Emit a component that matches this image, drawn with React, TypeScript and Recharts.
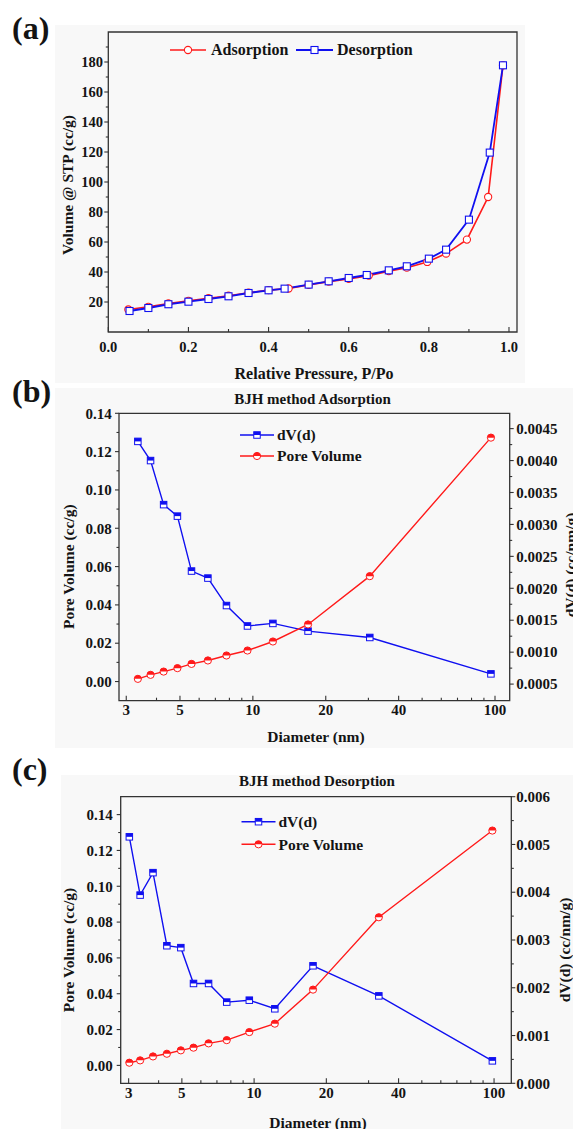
import React from 'react';
import { LineChart, Line, XAxis, YAxis, ReferenceArea, Legend } from 'recharts';

const FONT = '"Liberation Serif", "Times New Roman", serif';
const RED = '#ff1a1a';
const BLUE = '#1010f0';
const FRAME = '#333333';
const INK = '#141414';

// (a) N2 adsorption / desorption isotherm
const adsPressure = [0.05, 0.1, 0.15, 0.2, 0.25, 0.3, 0.35, 0.4, 0.45, 0.5, 0.55, 0.6, 0.65, 0.7, 0.745, 0.796, 0.843, 0.895, 0.948, 0.985];
const adsVolume = [15.0, 16.8, 19.0, 20.8, 22.5, 24.2, 26.2, 27.9, 29.0, 31.4, 33.6, 35.4, 37.6, 40.6, 42.9, 46.7, 52.3, 61.6, 90.0, 177.8];
const desPressure = [0.053, 0.1, 0.15, 0.2, 0.25, 0.3, 0.35, 0.4, 0.44, 0.5, 0.55, 0.6, 0.645, 0.7, 0.745, 0.8, 0.843, 0.9, 0.952, 0.985];
const desVolume = [14.0, 16.0, 18.5, 20.2, 22.0, 23.8, 26.0, 27.8, 28.9, 31.6, 33.8, 36.0, 38.0, 41.1, 43.8, 48.9, 54.9, 74.9, 119.6, 177.8];
const pressureTicks = [0, 0.2, 0.4, 0.6, 0.8, 1.0];
const pressureMinor = [0.1, 0.3, 0.5, 0.7, 0.9];
const volumeTicks = [20, 40, 60, 80, 100, 120, 140, 160, 180];
const volumeMinor = [10, 30, 50, 70, 90, 110, 130, 150, 170, 190];

// (b) BJH adsorption
const adsDiameter = [3.35, 3.78, 4.28, 4.88, 5.58, 6.52, 7.78, 9.5, 12.1, 16.9, 30.4, 96.2];
const adsDv = [0.0043, 0.004, 0.00331, 0.00313, 0.00227, 0.00216, 0.00173, 0.00141, 0.00145, 0.00133, 0.00123, 0.00066];
const adsPoreVolume = [0.0014, 0.0035, 0.0052, 0.007, 0.0092, 0.011, 0.0136, 0.0162, 0.0209, 0.0298, 0.055, 0.1273];

// (c) BJH desorption
const desDiameter = [3.02, 3.35, 3.79, 4.33, 4.95, 5.59, 6.46, 7.69, 9.55, 12.2, 17.6, 33.1, 98.4];
const desDv = [0.00516, 0.00394, 0.00441, 0.00288, 0.00284, 0.00209, 0.00209, 0.0017, 0.00174, 0.00156, 0.00246, 0.00183, 0.00047];
const desPoreVolume = [0.0015, 0.0028, 0.005, 0.0065, 0.0084, 0.0099, 0.0123, 0.0141, 0.0186, 0.0233, 0.0423, 0.0827, 0.1311];

const diameterTicks = [3, 5, 10, 20, 40, 100];
const diameterMinor = [4, 6, 7, 8, 9, 30, 50, 60, 70, 80, 90];
const poreTicks = [0, 0.02, 0.04, 0.06, 0.08, 0.1, 0.12, 0.14];
const poreMinor = [0.01, 0.03, 0.05, 0.07, 0.09, 0.11, 0.13];
const dvTicksAds = [0.0005, 0.001, 0.0015, 0.002, 0.0025, 0.003, 0.0035, 0.004, 0.0045];
const dvMinorAds = [0.00075, 0.00125, 0.00175, 0.00225, 0.00275, 0.00325, 0.00375, 0.00425];
const dvTicksDes = [0, 0.001, 0.002, 0.003, 0.004, 0.005, 0.006];
const dvMinorDes = [0.0005, 0.0015, 0.0025, 0.0035, 0.0045, 0.0055];

const merge = (a: number[], b: number[]) => [...a, ...b].sort((p, q) => p - q);

const bold = (size: number): React.CSSProperties => ({
  fontFamily: FONT,
  fontWeight: 700,
  fontSize: size,
  fill: INK,
});

type TickOpts = {
  major: number[];
  fmt: (v: number) => string;
  size: number;
  offset: number;
  majorLen: number;
  minorLen: number;
};

// tickSize/tickMargin are 0, so x / y handed to the tick sit on the frame edge
function makeTick(side: 'bottom' | 'left' | 'right', o: TickOpts) {
  return (props: any) => {
    const { x, y, payload, index } = props;
    const v = payload.value as number;
    const isMajor = o.major.includes(v);
    const len = isMajor ? o.majorLen : o.minorLen;
    if (side === 'bottom') {
      return (
        <g key={`b${index}`}>
          <line x1={x} x2={x} y1={y} y2={y - len} stroke={FRAME} strokeWidth={1.1} />
          {isMajor && (
            <text x={x} y={y + o.offset} textAnchor="middle" style={bold(o.size)}>
              {o.fmt(v)}
            </text>
          )}
        </g>
      );
    }
    const dir = side === 'left' ? -1 : 1;
    return (
      <g key={`${side}${index}`}>
        <line x1={x} x2={x + dir * len} y1={y} y2={y} stroke={FRAME} strokeWidth={1.1} />
        {isMajor && (
          <text
            x={x + dir * o.offset}
            y={y}
            dy="0.35em"
            textAnchor={side === 'left' ? 'end' : 'start'}
            style={bold(o.size)}
          >
            {o.fmt(v)}
          </text>
        )}
      </g>
    );
  };
}

function vTitle(text: string, x: number, cy: number, size: number) {
  return () => (
    <text
      x={x}
      y={cy}
      transform={`rotate(-90 ${x} ${cy})`}
      textAnchor="middle"
      dy="0.33em"
      style={bold(size)}
    >
      {text}
    </text>
  );
}

function hTitle(text: string, cx: number, baseline: number, size: number) {
  return () => (
    <text x={cx} y={baseline} textAnchor="middle" style={bold(size)}>
      {text}
    </text>
  );
}

const hollowCircle = (color: string, r: number) => (p: any) => (
  <circle key={`hc${p.index}`} cx={p.cx} cy={p.cy} r={r} fill="#fff" stroke={color} strokeWidth={1.1} />
);

const hollowSquare = (color: string, s: number) => (p: any) => (
  <rect
    key={`hs${p.index}`}
    x={p.cx - s / 2}
    y={p.cy - s / 2}
    width={s}
    height={s}
    fill="#fff"
    stroke={color}
    strokeWidth={1.1}
  />
);

function HalfSquare({ cx, cy, s, color }: { cx: number; cy: number; s: number; color: string }) {
  return (
    <g>
      <rect x={cx - s / 2} y={cy - s / 2} width={s} height={s} fill="#fff" stroke={color} strokeWidth={1} />
      <rect x={cx - s / 2} y={cy - s / 2} width={s} height={s / 2} fill={color} />
    </g>
  );
}

function HalfCircle({ cx, cy, r, color }: { cx: number; cy: number; r: number; color: string }) {
  return (
    <g>
      <circle cx={cx} cy={cy} r={r} fill="#fff" stroke={color} strokeWidth={1} />
      <path d={`M${cx - r},${cy} A${r},${r} 0 0 1 ${cx + r},${cy} Z`} fill={color} />
    </g>
  );
}

const halfSquareDot = (color: string, s: number) => (p: any) => (
  <HalfSquare key={`q${p.index}`} cx={p.cx} cy={p.cy} s={s} color={color} />
);
const halfCircleDot = (color: string, r: number) => (p: any) => (
  <HalfCircle key={`o${p.index}`} cx={p.cx} cy={p.cy} r={r} color={color} />
);

function IsothermChart() {
  const ads = adsPressure.map((p, i) => ({ p, v: adsVolume[i] }));
  const des = desPressure.map((p, i) => ({ p, v: desVolume[i] }));

  const legend = () => (
    <svg width={573} height={70} style={{ display: 'block', overflow: 'visible' }}>
      <line x1={170} x2={206} y1={50} y2={50} stroke={RED} strokeWidth={1.6} />
      <circle cx={188} cy={50} r={3.6} fill="#fff" stroke={RED} strokeWidth={1.1} />
      <text x={211} y={55.3} style={bold(16)}>Adsorption</text>
      <line x1={296} x2={333} y1={50} y2={50} stroke={BLUE} strokeWidth={1.8} />
      <rect x={311} y={46.5} width={7} height={7} fill="#fff" stroke={BLUE} strokeWidth={1.1} />
      <text x={337} y={55.3} style={bold(16)}>Desorption</text>
    </svg>
  );

  return (
    <LineChart width={573} height={390} margin={{ top: 32, right: 56, bottom: 0, left: 0 }}>
      <XAxis
        dataKey="p"
        type="number"
        domain={[0, 1.02]}
        allowDataOverflow
        ticks={merge(pressureTicks, pressureMinor)}
        interval={0}
        height={58}
        tickSize={0}
        tickMargin={0}
        axisLine={false}
        tickLine={false}
        tick={makeTick('bottom', {
          major: pressureTicks,
          fmt: (v) => v.toFixed(1),
          size: 14.5,
          offset: 19.5,
          majorLen: 5,
          minorLen: 3,
        })}
        label={hTitle('Relative Pressure, P/Po', 314, 378.8, 16)}
      />
      <YAxis
        type="number"
        domain={[0, 200]}
        allowDataOverflow
        ticks={merge(volumeTicks, volumeMinor)}
        interval={0}
        width={108.3}
        tickSize={0}
        tickMargin={0}
        axisLine={false}
        tickLine={false}
        tick={makeTick('left', {
          major: volumeTicks,
          fmt: (v) => String(v),
          size: 14.5,
          offset: 5.3,
          majorLen: 4,
          minorLen: 2.5,
        })}
        label={vTitle('Volume @ STP (cc/g)', 68, 185, 15.5)}
      />
      <ReferenceArea x1={0} x2={1.02} y1={0} y2={200} fill="none" stroke={FRAME} strokeWidth={1.3} />
      <Legend
        layout="vertical"
        verticalAlign="middle"
        align="center"
        content={legend}
        wrapperStyle={{ left: 0, top: 0, width: 573, height: 0 }}
      />
      <Line
        data={ads}
        dataKey="v"
        name="Adsorption"
        type="linear"
        stroke={RED}
        strokeWidth={1.6}
        dot={hollowCircle(RED, 3.6)}
        activeDot={false}
        isAnimationActive={false}
      />
      <Line
        data={des}
        dataKey="v"
        name="Desorption"
        type="linear"
        stroke={BLUE}
        strokeWidth={1.8}
        dot={hollowSquare(BLUE, 7)}
        activeDot={false}
        isAnimationActive={false}
      />
    </LineChart>
  );
}

type BjhProps = {
  diameter: number[];
  dv: number[];
  pore: number[];
  height: number;
  marginTop: number;
  leftWidth: number;
  rightWidth: number;
  axisHeight: number;
  xDomain: [number, number];
  leftDomain: [number, number];
  rightDomain: [number, number];
  rightTicks: number[];
  rightMinor: number[];
  rightDigits: number;
  xLabelOffset: number;
  leftLabelOffset: number;
  rightLabelOffset: number;
  leftTitle: [number, number];
  rightTitle: [number, number];
  bottomTitle: [number, number];
  legendX: number;
  legendY: [number, number];
};

function BjhChart(cfg: BjhProps) {
  const rows = cfg.diameter.map((d, i) => ({ d, dv: cfg.dv[i], pv: cfg.pore[i] }));
  const lx = cfg.legendX;

  const legend = () => (
    <svg width={573} height={90} style={{ display: 'block', overflow: 'visible' }}>
      <line x1={lx} x2={lx + 34} y1={cfg.legendY[0]} y2={cfg.legendY[0]} stroke={BLUE} strokeWidth={1.4} />
      <HalfSquare cx={lx + 17} cy={cfg.legendY[0]} s={6.5} color={BLUE} />
      <text x={lx + 37} y={cfg.legendY[0] + 5.2} style={bold(15.5)}>dV(d)</text>
      <line x1={lx} x2={lx + 34} y1={cfg.legendY[1]} y2={cfg.legendY[1]} stroke={RED} strokeWidth={1.4} />
      <HalfCircle cx={lx + 17} cy={cfg.legendY[1]} r={3.6} color={RED} />
      <text x={lx + 37} y={cfg.legendY[1] + 5.2} style={bold(15.5)}>Pore Volume</text>
    </svg>
  );

  return (
    <LineChart
      width={573}
      height={cfg.height}
      data={rows}
      margin={{ top: cfg.marginTop, right: 0, bottom: 0, left: 0 }}
    >
      <XAxis
        dataKey="d"
        type="number"
        scale="log"
        domain={cfg.xDomain}
        allowDataOverflow
        ticks={merge(diameterTicks, diameterMinor)}
        interval={0}
        height={cfg.axisHeight}
        tickSize={0}
        tickMargin={0}
        axisLine={false}
        tickLine={false}
        tick={makeTick('bottom', {
          major: diameterTicks,
          fmt: (v) => String(v),
          size: 15,
          offset: cfg.xLabelOffset,
          majorLen: 5,
          minorLen: 3,
        })}
        label={hTitle('Diameter (nm)', cfg.bottomTitle[0], cfg.bottomTitle[1], 15.5)}
      />
      <YAxis
        yAxisId="left"
        type="number"
        domain={cfg.leftDomain}
        allowDataOverflow
        ticks={merge(poreTicks, poreMinor)}
        interval={0}
        width={cfg.leftWidth}
        tickSize={0}
        tickMargin={0}
        axisLine={false}
        tickLine={false}
        tick={makeTick('left', {
          major: poreTicks,
          fmt: (v) => v.toFixed(2),
          size: 15,
          offset: cfg.leftLabelOffset,
          majorLen: 4,
          minorLen: 2.5,
        })}
        label={vTitle('Pore Volume (cc/g)', cfg.leftTitle[0], cfg.leftTitle[1], 15.5)}
      />
      <YAxis
        yAxisId="right"
        orientation="right"
        type="number"
        domain={cfg.rightDomain}
        allowDataOverflow
        ticks={merge(cfg.rightTicks, cfg.rightMinor)}
        interval={0}
        width={cfg.rightWidth}
        tickSize={0}
        tickMargin={0}
        axisLine={false}
        tickLine={false}
        tick={makeTick('right', {
          major: cfg.rightTicks,
          fmt: (v) => v.toFixed(cfg.rightDigits),
          size: 15,
          offset: cfg.rightLabelOffset,
          majorLen: 4,
          minorLen: 2.5,
        })}
        label={vTitle('dV(d) (cc/nm/g)', cfg.rightTitle[0], cfg.rightTitle[1], 15.5)}
      />
      <ReferenceArea
        yAxisId="left"
        x1={cfg.xDomain[0]}
        x2={cfg.xDomain[1]}
        y1={cfg.leftDomain[0]}
        y2={cfg.leftDomain[1]}
        fill="none"
        stroke={FRAME}
        strokeWidth={1.3}
      />
      <Legend
        layout="vertical"
        verticalAlign="middle"
        align="center"
        content={legend}
        wrapperStyle={{ left: 0, top: 0, width: 573, height: 0 }}
      />
      <Line
        yAxisId="right"
        dataKey="dv"
        name="dV(d)"
        type="linear"
        stroke={BLUE}
        strokeWidth={1.4}
        dot={halfSquareDot(BLUE, 6.5)}
        activeDot={false}
        isAnimationActive={false}
      />
      <Line
        yAxisId="left"
        dataKey="pv"
        name="Pore Volume"
        type="linear"
        stroke={RED}
        strokeWidth={1.4}
        dot={halfCircleDot(RED, 3.6)}
        activeDot={false}
        isAnimationActive={false}
      />
    </LineChart>
  );
}

const panelBg = (left: number, top: number, width: number, height: number): React.CSSProperties => ({
  position: 'absolute',
  left,
  top,
  width,
  height,
  background: '#f8f8f8',
});

export default function App() {
  return (
    <div
      style={{
        position: 'absolute',
        left: 0,
        top: 0,
        width: 573,
        height: 1129,
        background: '#ffffff',
        overflow: 'hidden',
        fontFamily: FONT,
      }}
    >
      <div style={panelBg(55, 25, 470, 358)} />
      <div style={panelBg(55, 388, 518, 360)} />
      <div style={panelBg(61, 775, 512, 354)} />

      <div style={{ position: 'absolute', left: 0, top: 0 }}>
        <IsothermChart />
      </div>

      <div style={{ position: 'absolute', left: 0, top: 388 }}>
        <BjhChart
          diameter={adsDiameter}
          dv={adsDv}
          pore={adsPoreVolume}
          height={360}
          marginTop={25.3}
          leftWidth={119}
          rightWidth={63.3}
          axisHeight={47.3}
          xDomain={[2.8, 115]}
          leftDomain={[-0.01, 0.14]}
          rightDomain={[0.00024, 0.00474]}
          rightTicks={dvTicksAds}
          rightMinor={dvMinorAds}
          rightDigits={4}
          xLabelOffset={14.4}
          leftLabelOffset={7.3}
          rightLabelOffset={6.6}
          leftTitle={[69, 178.7]}
          rightTitle={[571, 177]}
          bottomTitle={[316, 353.8]}
          legendX={240}
          legendY={[47, 68]}
        />
      </div>

      <div style={{ position: 'absolute', left: 0, top: 775 }}>
        <BjhChart
          diameter={desDiameter}
          dv={desDv}
          pore={desPoreVolume}
          height={354}
          marginTop={21.7}
          leftWidth={120.7}
          rightWidth={61.7}
          axisHeight={45.7}
          xDomain={[2.78, 118]}
          leftDomain={[-0.01, 0.15]}
          rightDomain={[0, 0.006]}
          rightTicks={dvTicksDes}
          rightMinor={dvMinorDes}
          rightDigits={3}
          xLabelOffset={15.1}
          leftLabelOffset={8}
          rightLabelOffset={5}
          leftTitle={[69, 175]}
          rightTitle={[565, 175]}
          bottomTitle={[318, 352.5]}
          legendX={241.5}
          legendY={[46.7, 69.3]}
        />
      </div>

      <svg
        width={573}
        height={1129}
        style={{ position: 'absolute', left: 0, top: 0, pointerEvents: 'none' }}
      >
        <text x={12} y={38.5} style={bold(32)}>(a)</text>
        <text x={12} y={401.5} style={bold(32)}>(b)</text>
        <text x={12} y={779.5} style={bold(32)}>(c)</text>
        <text x={312.5} y={404} textAnchor="middle" style={bold(15)}>BJH method Adsorption</text>
        <text x={317} y={786} textAnchor="middle" style={bold(15)}>BJH method Desorption</text>
      </svg>
    </div>
  );
}
